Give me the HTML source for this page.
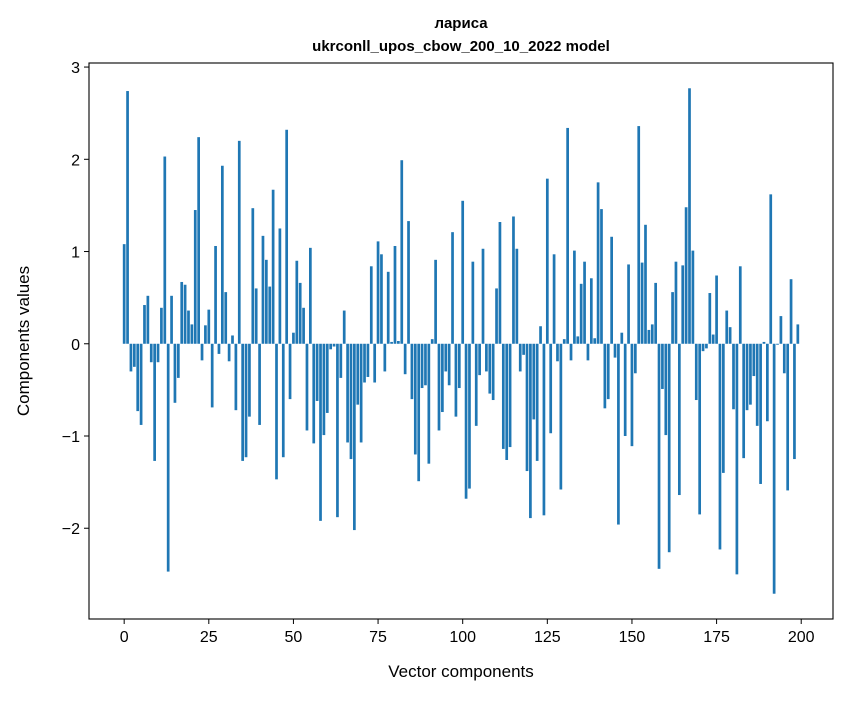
<!DOCTYPE html>
<html><head><meta charset="utf-8">
<style>
body{margin:0;background:#fff;}
svg text{font-family:"Liberation Sans","DejaVu Sans",sans-serif;fill:#000;}
</style></head>
<body>
<svg id="chart" width="847" height="696" viewBox="0 0 847 696" xmlns="http://www.w3.org/2000/svg">
<rect width="847" height="696" fill="#fff"/>
<text x="461" y="28" text-anchor="middle" font-size="15" font-weight="bold">лариса</text>
<text x="461" y="51" text-anchor="middle" font-size="15" font-weight="bold">ukrconll_upos_cbow_200_10_2022 model</text>
<g id="bars"></g>
<g id="axes"></g>
<rect x="89" y="63" width="744" height="556" fill="none" stroke="#000" stroke-width="1.1"/>
<text x="461" y="677" text-anchor="middle" font-size="17">Vector components</text>
<text transform="translate(29,341) rotate(-90)" text-anchor="middle" font-size="17">Components values</text>
</svg>
<script>
const values = [1.08,2.74,-0.30,-0.25,-0.73,-0.88,0.42,0.52,-0.20,-1.27,
-0.20,0.39,2.03,-2.47,0.52,-0.64,-0.37,0.67,0.64,0.36,
0.21,1.45,2.24,-0.18,0.20,0.37,-0.69,1.06,-0.11,1.93,
0.56,-0.19,0.09,-0.72,2.20,-1.27,-1.23,-0.79,1.47,0.60,
-0.88,1.17,0.91,0.62,1.67,-1.47,1.25,-1.23,2.32,-0.60,
0.12,0.90,0.66,0.39,-0.94,1.04,-1.08,-0.62,-1.92,-0.99,
-0.75,-0.06,-0.03,-1.88,-0.37,0.36,-1.07,-1.25,-2.02,-0.66,
-1.07,-0.42,-0.36,0.84,-0.42,1.11,0.97,-0.30,0.78,0.02,
1.06,0.03,1.99,-0.33,1.33,-0.60,-1.20,-1.49,-0.48,-0.45,
-1.30,0.05,0.91,-0.94,-0.74,-0.30,-0.45,1.21,-0.79,-0.48,
1.55,-1.68,-1.57,0.89,-0.89,-0.34,1.03,-0.30,-0.54,-0.61,
0.60,1.32,-1.14,-1.26,-1.12,1.38,1.03,-0.30,-0.12,-1.38,
-1.89,-0.82,-1.27,0.19,-1.86,1.79,-0.97,0.97,-0.19,-1.58,
0.05,2.34,-0.18,1.01,0.08,0.65,0.89,-0.18,0.71,0.06,
1.75,1.46,-0.70,-0.60,1.16,-0.15,-1.96,0.12,-1.00,0.86,
-1.11,-0.32,2.36,0.88,1.29,0.15,0.21,0.66,-2.44,-0.49,
-0.99,-2.26,0.56,0.89,-1.64,0.85,1.48,2.77,1.01,-0.61,
-1.85,-0.08,-0.05,0.55,0.10,0.74,-2.23,-1.40,0.36,0.18,
-0.71,-2.50,0.84,-1.24,-0.72,-0.66,-0.35,-0.89,-1.52,0.02,
-0.84,1.62,-2.71,-0.01,0.30,-0.32,-1.59,0.70,-1.25,0.21];
const xTicks = [0,25,50,75,100,125,150,175,200];
const yTicks = [-2,-1,0,1,2,3];
const yTickLabels = ["−2","−1","0","1","2","3"];

const L=89,R=833,T=63,B=619;
const n=values.length;
const xmin=-0.4-(n-0.2)*0.05, xmax=(n-1)+0.4+(n-0.2)*0.05;
const vmin=Math.min(...values), vmax=Math.max(...values);
const ymin=vmin-(vmax-vmin)*0.05, ymax=vmax+(vmax-vmin)*0.05;
const sx=v=>L+(v-xmin)/(xmax-xmin)*(R-L);
const sy=v=>B-(v-ymin)/(ymax-ymin)*(B-T);
const NS="http://www.w3.org/2000/svg";
const bars=document.getElementById('bars');
values.forEach((v,i)=>{
  const r=document.createElementNS(NS,'rect');
  const x0=sx(i-0.4), x1=sx(i+0.4);
  const y0=sy(Math.max(v,0)), y1=sy(Math.min(v,0));
  r.setAttribute('x',x0);r.setAttribute('width',x1-x0);
  r.setAttribute('y',y0);r.setAttribute('height',Math.max(y1-y0,0.5));
  r.setAttribute('fill','#1f77b4');
  
  
  bars.appendChild(r);
});
const axes=document.getElementById('axes');
xTicks.forEach(t=>{
  const x=sx(t);
  const l=document.createElementNS(NS,'line');
  l.setAttribute('x1',x);l.setAttribute('x2',x);l.setAttribute('y1',B);l.setAttribute('y2',B+5);
  l.setAttribute('stroke','#000');
  
  
  axes.appendChild(l);
  const tx=document.createElementNS(NS,'text');
  tx.setAttribute('x',x);tx.setAttribute('y',B+23);tx.setAttribute('text-anchor','middle');tx.setAttribute('font-size','16');
  tx.textContent=t;
  
  
  axes.appendChild(tx);
});
yTicks.forEach((t,k)=>{
  const y=sy(t);
  const l=document.createElementNS(NS,'line');
  l.setAttribute('x1',L-5);l.setAttribute('x2',L);l.setAttribute('y1',y);l.setAttribute('y2',y);
  l.setAttribute('stroke','#000');
  
  
  axes.appendChild(l);
  const tx=document.createElementNS(NS,'text');
  tx.setAttribute('x',L-9);tx.setAttribute('y',y+6);tx.setAttribute('text-anchor','end');tx.setAttribute('font-size','16');
  tx.textContent=yTickLabels[k];
  
  
  axes.appendChild(tx);
});
</script>
</body></html>
